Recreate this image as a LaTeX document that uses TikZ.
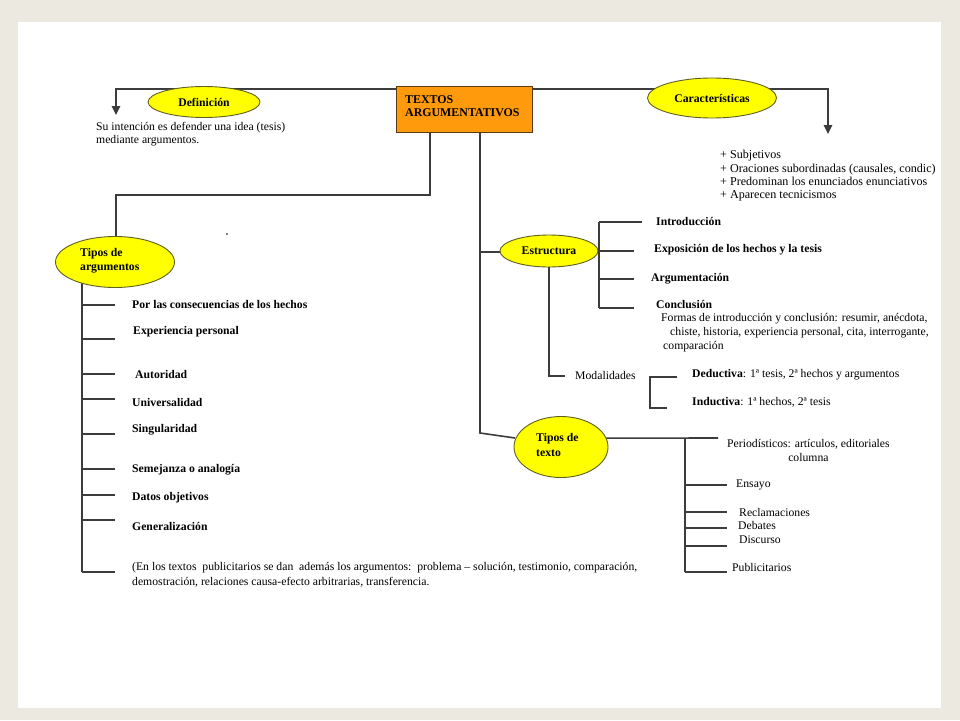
\documentclass[tikz,border=0pt]{standalone}
\usepackage{fontspec}
\setmainfont{Liberation Serif}
\usetikzlibrary{shapes.geometric,arrows.meta,calc}
\definecolor{bg}{HTML}{ECEAE0}
\definecolor{lin}{HTML}{3C3C3C}
\definecolor{orng}{HTML}{FF9A0D}
\definecolor{orbd}{HTML}{5A3A12}
\definecolor{yel}{HTML}{FFFF00}
\definecolor{yelbd}{HTML}{5F5F20}
\begin{document}
\begin{tikzpicture}[x=1pt,y=-1pt,
  conn/.style={draw=lin,line width=1.6pt},
  arr/.style={conn,-{Triangle[length=9pt,width=8.5pt]}},
  oval/.style={ellipse,draw=yelbd,line width=0.9pt,fill=yel,inner sep=0pt,font=\fontsize{11.7}{14}\selectfont\bfseries},
  txt/.style={anchor=west,inner sep=0pt,font=\fontsize{11.7}{13}\selectfont},
  btxt/.style={anchor=west,inner sep=0pt,font=\fontsize{11.7}{13}\selectfont\bfseries}]
\fill[bg] (0,0) rectangle (960,720);
\fill[white] (18,22) rectangle (941,708);
\useasboundingbox (0,0) rectangle (960,720);

% main box
\node[draw=orbd,line width=1pt,fill=orng,minimum width=136pt,minimum height=46pt,anchor=north west,inner sep=0pt] (main) at (396,86) {};
\node[btxt,align=left,font=\fontsize{11.9}{13}\selectfont\bfseries] (maint) at (405,106.5) {TEXTOS\\ARGUMENTATIVOS};

\coordinate (defend) at (116,115);
\coordinate (carend) at (828,134);

% connectors top
\draw[arr] ($(main.north west)+(0,3)$) -| (defend);
\draw[arr] ($(main.north east)+(0,3)$) -| (carend);

\node[oval,minimum width=112pt,minimum height=31pt] (def) at (204,102) {Definición};
\node[oval,minimum width=129pt,minimum height=40pt] (car) at (712,98) {Características};

% definition text
\node[txt,align=left] (deftxt) at (96,134.5) {Su intención es defender una idea (tesis)\\mediante argumentos.};

% characteristics text
\node[txt,align=left,font=\fontsize{12.1}{13.3}\selectfont] (cartxt) at (720,176)
 {+ Subjetivos\\+ Oraciones subordinadas (causales, condic)\\+ Predominan los enunciados enunciativos\\+ Aparecen tecnicismos};

% left branch: tipos de argumentos
\coordinate (m1) at ($(main.south west)+(34,0)$);
\coordinate (ltop) at (82,270);
\coordinate (lbot) at (82,572);
\draw[conn] (m1) |- (116,195) -- (116,240);
\draw[conn] (ltop) -- (lbot);
\foreach \y in {305,339,374,399,434,469,495,520,572}
  \draw[conn] (82,\y) -- (115,\y);
\node[oval,minimum width=119pt,minimum height=51pt] (targ) at (115,262) {};
\node[btxt,align=left,font=\fontsize{11.7}{14}\selectfont\bfseries] (targt) at (80,261) {Tipos de\\argumentos};

\node[btxt] (a1) at (132,305) {Por las consecuencias de los hechos};
\node[btxt] (a2) at (133,332) {Experiencia personal};
\node[btxt] (a3) at (135,375) {Autoridad};
\node[btxt] (a4) at (132,402) {Universalidad};
\node[btxt] (a5) at (132,430) {Singularidad};
\node[btxt] (a6) at (132,470) {Semejanza o analogía};
\node[btxt] (a7) at (132,498) {Datos objetivos};
\node[btxt] (a8) at (132,526) {Generalización};
\node[txt,align=left,font=\fontsize{11.7}{15}\selectfont] (a9) at (132,574.5)
 {(En los textos\ \ publicitarios se dan\ \ además los argumentos:\ \ problema – solución, testimonio, comparación,\\demostración, relaciones causa-efecto arbitrarias, transferencia.};

\fill[black] (227,234) circle (0.9pt);

% estructura
\coordinate (m2) at ($(main.south west)+(84,0)$);
\coordinate (tt1) at (480,433);
\draw[conn] (m2) -- (tt1) -- (515,438);
\draw[conn] (480,252) -- (505,252);
\node[oval,minimum width=98pt,minimum height=32pt] (est) at (549,251) {Estructura};

\draw[conn] (599,222) -- (599,308);
\draw[conn] (599,222) -- (642,222);
\foreach \y in {251,279,308} \draw[conn] (599,\y) -- (634,\y);
\draw[conn] (est.east) -- (599,251);
\node[btxt] (e1) at (656,222) {Introducción};
\node[btxt] (e2) at (654,250) {Exposición de los hechos y la tesis};
\node[btxt] (e3) at (651,279) {Argumentación};
\node[btxt] (e4) at (656,305) {Conclusión};
\node[txt] (e5) at (661,319) {Formas de introducción y conclusión: resumir, anécdota,};
\node[txt] (e6) at (670,333) {chiste, historia, experiencia personal, cita, interrogante,};
\node[txt] (e7) at (663,347) {comparación};

% modalidades
\draw[conn] (est.south) |- (565,376);
\node[txt] (mod) at (575,375) {Modalidades};
\draw[conn] (677,377) -- (650,377) -- (650,408) -- (667,408);
\node[txt] (ded) at (692,375) {\textbf{Deductiva}: 1ª tesis, 2ª hechos y argumentos};
\node[txt] (ind) at (692,402) {\textbf{Inductiva}: 1ª hechos, 2ª tesis};

% tipos de texto
\node[oval,minimum width=94pt,minimum height=61pt] (ttex) at (561,447) {};
\node[btxt,align=left,font=\fontsize{11.7}{14.5}\selectfont\bfseries] (ttext) at (536,445) {Tipos de\\texto};
\draw[conn] (ttex.11) -- (718,438);
\draw[conn] (685,438) -- (685,572);
\foreach \y in {485,512,528,546,572} \draw[conn] (685,\y) -- (727,\y);
\node[txt,align=center,font=\fontsize{11.7}{14}\selectfont] (p1) at (727,450) {Periodísticos: artículos, editoriales\\columna};
\node[txt] (p2) at (736,485) {Ensayo};
\node[txt] (p3) at (739,512) {Reclamaciones};
\node[txt] (p4) at (738,525) {Debates};
\node[txt] (p5) at (739,540) {Discurso};
\node[txt] (p6) at (732,567) {Publicitarios};
\end{tikzpicture}
\end{document}
